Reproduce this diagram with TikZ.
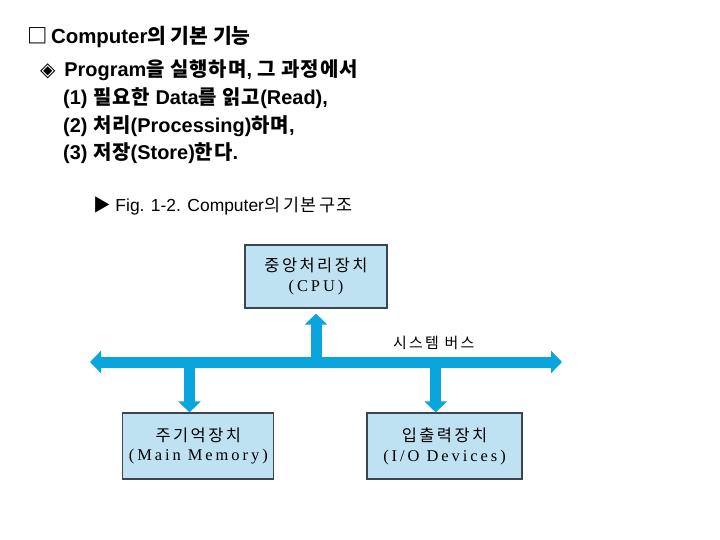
\documentclass[tikz,border=0pt]{standalone}
\usepackage{fontspec}
\setmainfont{Liberation Sans}
\newfontfamily\kr{Noto Sans CJK KR}
\newfontfamily\krw[LetterSpace=5]{Noto Sans CJK KR}
\newfontfamily\krbox[LetterSpace=15]{Noto Sans CJK KR}
\newfontfamily\serifbox[LetterSpace=18]{Liberation Serif}
\newfontfamily\symb{DejaVu Sans}
\usetikzlibrary{arrows.meta, positioning}

\definecolor{busblue}{RGB}{10,165,220}
\definecolor{unitfill}{RGB}{190,226,242}
\definecolor{unitline}{RGB}{60,70,80}

\begin{document}
\begin{tikzpicture}[
    x=1bp, y=-1bp,
    teks/.style={anchor=west, inner sep=0pt},
    judul/.style={teks, font=\fontsize{20.5}{24}\selectfont\bfseries},
    butir/.style={teks, font=\fontsize{20}{24}\selectfont\bfseries},
    unit/.style={draw=unitline, fill=unitfill, line width=1.2bp, align=center,
                 inner sep=0pt, font=\fontsize{16.5}{20}\selectfont},
    jalur/.style={busblue, line width=11bp,
                  -{Triangle[width=22bp, length=11bp]}},
    buslabel/.style={teks, font=\fontsize{15}{18}\selectfont\krbox}
  ]
    \useasboundingbox (0,0) rectangle (720,540);

    % teks
    \node[judul] (t0) at (27,37) {{\kr □}\,Computer{\kr 의 기본 기능}};
    \node[butir] (t1) at (40,70) {{\symb ◈}\, Program{\krw 을 실행하며}, {\krw 그 과정에서}};
    \node[butir] (t2) at (63,98) {(1) {\krw 필요한} Data{\krw 를 읽고}(Read),};
    \node[butir] (t3) at (63,126) {(2) {\krw 처리}(Processing){\krw 하며},};
    \node[butir] (t4) at (63,153) {(3) {\krw 저장}(Store){\krw 한다}.};
    \node[teks, font=\fontsize{17.5}{20}\selectfont] (cap) at (93,206)
      {{\kr ▶} Fig. 1-2. Computer{\kr 의 기본 구조}};

    % unit
    \node[unit, minimum width=142bp, minimum height=63bp] (cpu) at (316,276.5)
      {{\krbox 중앙처리장치}\\{\serifbox (CPU)}};
    \node[unit, minimum width=151bp, minimum height=66bp] (mem) at (198.3,446)
      {{\krbox 주기억장치}\\{\serifbox (Main Memory)}};
    \node[unit, minimum width=155bp, minimum height=66bp] (io) at (444.5,446)
      {{\krbox 입출력장치}\\{\serifbox (I/O Devices)}};

    % bus
    \coordinate (busl) at (90,362);
    \coordinate (busr) at (562,362);
    \coordinate (tapc) at (316,362);
    \coordinate (tapm) at (189.5,362);
    \coordinate (tapi) at (435.7,362);
    \draw[jalur, {Triangle[width=22bp, length=11bp]}-{Triangle[width=22bp, length=11bp]}]
      (busl) -- (busr);
    \node[buslabel] (busname) at (393,343) {시스템 버스};

    \draw[jalur, shorten >=5bp] (tapc) -- (cpu.south);
    \draw[jalur] (tapm) -- (tapm |- mem.north);
    \draw[jalur] (tapi) -- (tapi |- io.north);
\end{tikzpicture}
\end{document}
